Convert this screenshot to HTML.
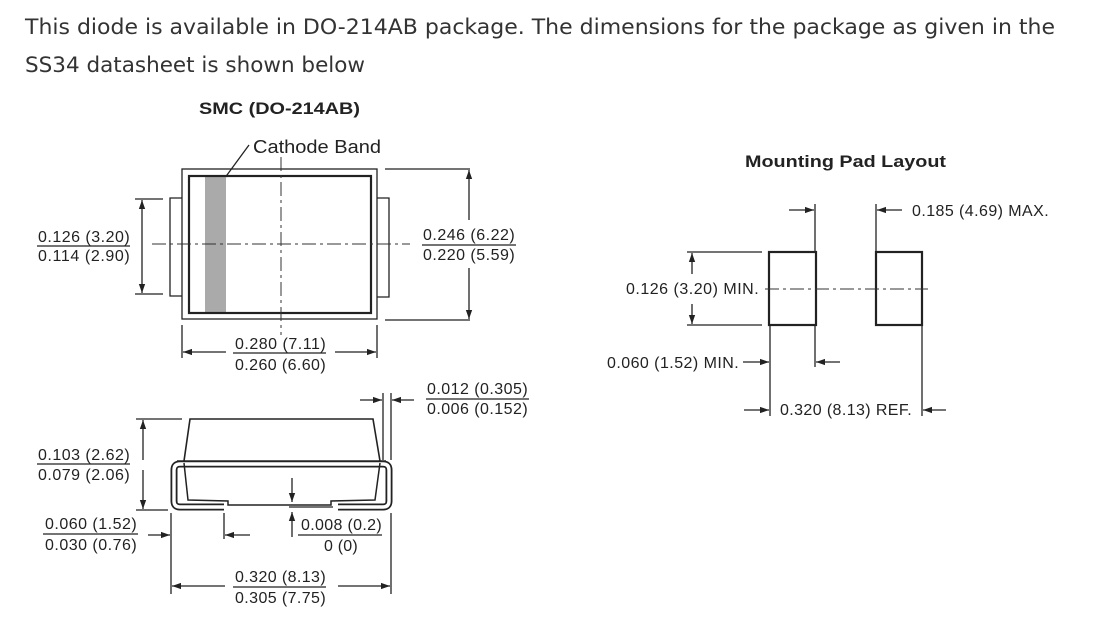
<!DOCTYPE html>
<html><head><meta charset="utf-8"><style>
html,body{margin:0;padding:0;background:#fff;width:1095px;height:631px;overflow:hidden}
svg{display:block}
.h{font-family:"DejaVu Sans","Liberation Sans",sans-serif;font-size:21px;fill:#333}
.t{font-family:"Liberation Sans",Arial,sans-serif;font-size:16px;letter-spacing:0.3px;fill:#222}
.b{font-family:"Liberation Sans",Arial,sans-serif;font-size:17px;font-weight:bold;fill:#222}
.l{stroke:#222;stroke-width:1.3;fill:none}
.k{stroke:#222;stroke-width:2.2;fill:none}
.c{stroke:#333;stroke-width:1;fill:none;stroke-dasharray:14 4 3 4}
</style></head><body>
<svg width="1095" height="631" viewBox="0 0 1095 631" xmlns="http://www.w3.org/2000/svg">
<defs>
<marker id="a" viewBox="0 0 10 10" refX="10" refY="5" markerWidth="9" markerHeight="9" markerUnits="userSpaceOnUse" orient="auto"><path d="M0,1.5 L10,5 L0,8.5 Z" fill="#222"/></marker>
</defs>
<text class="h" x="25" y="34" textLength="1030" lengthAdjust="spacingAndGlyphs">This diode is available in DO-214AB package. The dimensions for the package as given in the</text>
<text class="h" x="25" y="72" textLength="340" lengthAdjust="spacingAndGlyphs">SS34 datasheet is shown below</text>

<text class="b" x="199" y="114" textLength="161" lengthAdjust="spacingAndGlyphs">SMC (DO-214AB)</text>
<text class="t" x="253" y="153" style="font-size:18px;letter-spacing:0" textLength="128" lengthAdjust="spacingAndGlyphs">Cathode Band</text>
<line class="l" x1="249" y1="145" x2="216" y2="190" marker-end="url(#a)"/>

<!-- top view -->
<rect x="205" y="176" width="21" height="137" fill="#aaa"/>
<rect class="l" x="182" y="169" width="195" height="150"/>
<rect class="k" x="189" y="176" width="182" height="137"/>
<path class="l" d="M182,198 H170 V296 H182"/>
<path class="l" d="M377,198 H389 V297 H377"/>
<line class="c" x1="152" y1="244" x2="410" y2="244"/>
<line class="c" x1="281" y1="157" x2="281" y2="335"/>
<line class="l" x1="135" y1="199" x2="163" y2="199"/>
<line class="l" x1="135" y1="294" x2="163" y2="294"/>
<line class="l" x1="142" y1="244" x2="142" y2="200" marker-end="url(#a)"/>
<line class="l" x1="142" y1="244" x2="142" y2="293" marker-end="url(#a)"/>
<text class="t" x="38" y="242" textLength="92">0.126 (3.20)</text>
<line class="l" x1="37" y1="246" x2="130" y2="246"/>
<text class="t" x="38" y="261" textLength="92">0.114 (2.90)</text>

<line class="l" x1="385" y1="169" x2="470" y2="169"/>
<line class="l" x1="385" y1="320" x2="470" y2="320"/>
<line class="l" x1="469" y1="220" x2="469" y2="170" marker-end="url(#a)"/>
<line class="l" x1="469" y1="268" x2="469" y2="319" marker-end="url(#a)"/>
<text class="t" x="423" y="240" textLength="92">0.246 (6.22)</text>
<line class="l" x1="422" y1="245" x2="516" y2="245"/>
<text class="t" x="423" y="260" textLength="92">0.220 (5.59)</text>

<line class="l" x1="182" y1="325" x2="182" y2="358"/>
<line class="l" x1="377" y1="325" x2="377" y2="358"/>
<line class="l" x1="226" y1="352" x2="183" y2="352" marker-end="url(#a)"/>
<line class="l" x1="335" y1="352" x2="376" y2="352" marker-end="url(#a)"/>
<text class="t" x="235" y="349" textLength="91">0.280 (7.11)</text>
<line class="l" x1="233" y1="353" x2="326" y2="353"/>
<text class="t" x="235" y="370" textLength="91">0.260 (6.60)</text>

<!-- side view -->
<path class="l" d="M184,461 L190,419 H373 L380,461" style="stroke-width:1.6"/>
<line class="l" x1="177" y1="461" x2="386" y2="461" style="stroke-width:1.6"/>
<path d="M224,507 H180 Q174,507 174,501 V470 Q174,464 180,464 H383 Q389,464 389,470 V501 Q389,507 383,507 H338" fill="none" stroke="#222" stroke-width="7"/>
<path d="M224,507 H180 Q174,507 174,501 V470 Q174,464 180,464 H383 Q389,464 389,470 V501 Q389,507 383,507 H338" fill="none" stroke="#fff" stroke-width="3.4"/>
<path class="l" d="M184,463 L188,500 L228,501 V505 H331 V501 L375,500 L380,463" style="stroke-width:1.5"/>

<line class="l" x1="383" y1="393" x2="383" y2="460"/>
<line class="l" x1="391" y1="393" x2="391" y2="460"/>
<line class="l" x1="360" y1="400" x2="382" y2="400" marker-end="url(#a)"/>
<line class="l" x1="414" y1="400" x2="392" y2="400" marker-end="url(#a)"/>
<text class="t" x="427" y="394" textLength="101">0.012 (0.305)</text>
<line class="l" x1="426" y1="399" x2="529" y2="399"/>
<text class="t" x="427" y="414" textLength="101">0.006 (0.152)</text>

<line class="l" x1="136" y1="419" x2="182" y2="419"/>
<line class="l" x1="136" y1="510" x2="168" y2="510"/>
<line class="l" x1="143" y1="460" x2="143" y2="420" marker-end="url(#a)"/>
<line class="l" x1="143" y1="470" x2="143" y2="509" marker-end="url(#a)"/>
<text class="t" x="38" y="460" textLength="92">0.103 (2.62)</text>
<line class="l" x1="37" y1="464" x2="130" y2="464"/>
<text class="t" x="38" y="480" textLength="92">0.079 (2.06)</text>

<line class="l" x1="171" y1="513" x2="171" y2="594"/>
<line class="l" x1="224" y1="513" x2="224" y2="539"/>
<line class="l" x1="148" y1="535" x2="170" y2="535" marker-end="url(#a)"/>
<line class="l" x1="250" y1="535" x2="225" y2="535" marker-end="url(#a)"/>
<text class="t" x="45" y="529" textLength="92">0.060 (1.52)</text>
<line class="l" x1="43" y1="534" x2="138" y2="534"/>
<text class="t" x="45" y="550" textLength="92">0.030 (0.76)</text>

<line class="l" x1="292" y1="478" x2="292" y2="502" marker-end="url(#a)"/>
<line class="l" x1="292" y1="537" x2="292" y2="512" marker-end="url(#a)"/>
<line class="l" x1="289" y1="507" x2="333" y2="507"/>
<text class="t" x="301" y="530" textLength="81">0.008 (0.2)</text>
<line class="l" x1="298" y1="535" x2="382" y2="535"/>
<text class="t" x="324" y="551" textLength="34">0 (0)</text>

<line class="l" x1="391" y1="513" x2="391" y2="594"/>
<line class="l" x1="225" y1="586" x2="172" y2="586" marker-end="url(#a)"/>
<line class="l" x1="338" y1="586" x2="390" y2="586" marker-end="url(#a)"/>
<text class="t" x="235" y="582" textLength="91">0.320 (8.13)</text>
<line class="l" x1="233" y1="587" x2="326" y2="587"/>
<text class="t" x="235" y="603" textLength="91">0.305 (7.75)</text>

<!-- mounting pad -->
<text class="b" x="745" y="167" textLength="201" lengthAdjust="spacingAndGlyphs">Mounting Pad Layout</text>
<rect class="k" x="769" y="252" width="47" height="73"/>
<rect class="k" x="876" y="252" width="46" height="73"/>
<line class="c" x1="765" y1="289" x2="928" y2="289"/>
<line class="l" x1="815" y1="204" x2="815" y2="251"/>
<line class="l" x1="876" y1="204" x2="876" y2="251"/>
<line class="l" x1="789" y1="210" x2="814" y2="210" marker-end="url(#a)"/>
<line class="l" x1="902" y1="210" x2="877" y2="210" marker-end="url(#a)"/>
<text class="t" x="912" y="216" textLength="137">0.185 (4.69) MAX.</text>
<line class="l" x1="687" y1="252" x2="762" y2="252"/>
<line class="l" x1="687" y1="325" x2="762" y2="325"/>
<line class="l" x1="692" y1="274" x2="692" y2="253" marker-end="url(#a)"/>
<line class="l" x1="692" y1="304" x2="692" y2="324" marker-end="url(#a)"/>
<text class="t" x="626" y="294" textLength="133">0.126 (3.20) MIN.</text>
<line class="l" x1="770" y1="326" x2="770" y2="416"/>
<line class="l" x1="815" y1="326" x2="815" y2="367"/>
<line class="l" x1="922" y1="326" x2="922" y2="416"/>
<line class="l" x1="743" y1="362" x2="769" y2="362" marker-end="url(#a)"/>
<line class="l" x1="840" y1="362" x2="816" y2="362" marker-end="url(#a)"/>
<text class="t" x="607" y="368" textLength="132">0.060 (1.52) MIN.</text>
<line class="l" x1="744" y1="410" x2="769" y2="410" marker-end="url(#a)"/>
<line class="l" x1="946" y1="410" x2="923" y2="410" marker-end="url(#a)"/>
<text class="t" x="780" y="415" textLength="132">0.320 (8.13) REF.</text>
</svg>
</body></html>
